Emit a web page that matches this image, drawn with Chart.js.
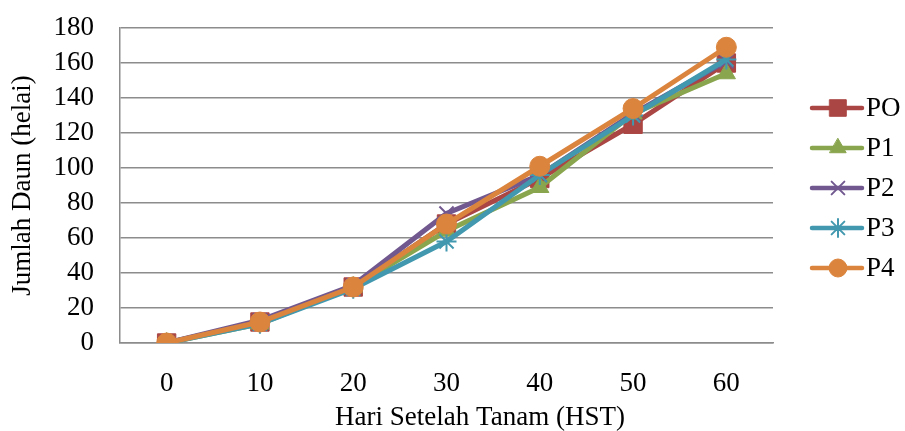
<!DOCTYPE html>
<html>
<head>
<meta charset="utf-8">
<script src="https://cdn.jsdelivr.net/npm/chart.js@4.4.1/dist/chart.umd.min.js"></script>
<style>
html,body{margin:0;padding:0;background:#fff;}
#wrap{position:relative;width:905px;height:431px;}
</style>
</head>
<body>
<div id="wrap"><canvas id="c" width="905" height="431"></canvas></div>
<script>
const categories = ['0','10','20','30','40','50','60'];
const seriesNames = ['PO','P1','P2','P3','P4'];
const valuesPO = [0, 12, 32, 68, 94, 125, 160];
const valuesP1 = [0, 11, 32, 64, 89, 131, 154];
const valuesP2 = [0, 13, 33, 74, 96, 131, 161];
const valuesP3 = [0, 11, 31, 58, 96, 130, 162];
const valuesP4 = [0, 12, 32, 68, 101, 134, 169];
const yTicks = [0,20,40,60,80,100,120,140,160,180];
const xTitle = 'Hari Setelah Tanam (HST)';
const yTitle = 'Jumlah Daun (helai)';

const colors = ['#AA4643','#89A54E','#71588F','#4198AF','#DB843D'];
const styles = ['rect','triangle','crossRot','star','circle'];
const radii = [13, 10.5, 10, 10, 10];
const allValues = [valuesPO, valuesP1, valuesP2, valuesP3, valuesP4];
const FONT = '"Liberation Serif", "Times New Roman", serif';
const FS = 27;
const gridColor = '#8C8C8C';

const datasets = seriesNames.map((n, i) => ({
  label: n,
  data: allValues[i],
  borderColor: colors[i],
  backgroundColor: colors[i],
  pointBackgroundColor: colors[i],
  pointBorderColor: colors[i],
  pointStyle: styles[i],
  pointRadius: radii[i],
  pointHoverRadius: radii[i],
  pointBorderWidth: (styles[i] === 'crossRot' || styles[i] === 'star') ? 2 : 1,
  borderWidth: 5,
  tension: 0,
  fill: false,
  order: seriesNames.length - i
}));

const legendPlugin = {
  id: 'customLegend',
  afterDraw(chart) {
    const ctx = chart.ctx;
    const x0 = 812, x1 = 862, mx = 838, tx = 866, y0 = 108, step = 40;
    chart.data.datasets.forEach((ds, i) => {
      const y = y0 + i * step;
      ctx.save();
      ctx.strokeStyle = ds.borderColor;
      ctx.lineWidth = 4.5;
      ctx.lineCap = 'round';
      ctx.beginPath(); ctx.moveTo(x0, y); ctx.lineTo(x1, y); ctx.stroke();
      ctx.fillStyle = ds.pointBackgroundColor;
      ctx.strokeStyle = ds.pointBorderColor;
      ctx.lineWidth = ds.pointBorderWidth;
      Chart.helpers.drawPoint(ctx, {pointStyle: ds.pointStyle, radius: ds.pointRadius * 0.9, rotation: 0, borderWidth: ds.pointBorderWidth}, mx, y);
      ctx.fillStyle = '#000';
      ctx.font = FS + 'px ' + FONT;
      ctx.textBaseline = 'middle';
      ctx.textAlign = 'left';
      ctx.fillText(ds.label, tx, y + 1);
      ctx.restore();
    });
    ctx.save();
    ctx.fillStyle = '#000';
    ctx.font = FS + 'px ' + FONT;
    ctx.textAlign = 'center';
    ctx.textBaseline = 'alphabetic';
    ctx.fillText(xTitle, 480, 425);
    ctx.restore();
  }
};

new Chart(document.getElementById('c'), {
  type: 'line',
  data: { labels: categories, datasets },
  options: {
    responsive: false,
    animation: false,
    events: [],
    layout: { padding: { top: 28, right: 132, left: 0, bottom: 0 } },
    plugins: { legend: { display: false }, tooltip: { enabled: false } },
    scales: {
      x: {
        offset: true,
        grid: { display: false, drawTicks: false },
        border: { display: true, color: gridColor, width: 1.5 },
        ticks: { color: '#000', font: { family: FONT, size: FS }, padding: 25, maxRotation: 0, autoSkip: false },
        title: { display: false },
        afterFit(s) { s.height = 88; s.paddingLeft = 0; s.paddingRight = 0; }
      },
      y: {
        min: 0, max: 180,
        afterBuildTicks(s) { s.ticks = yTicks.map(v => ({ value: v })); },
        grid: { color: gridColor, lineWidth: 1.5, drawTicks: false },
        border: { display: true, color: gridColor, width: 1.5 },
        ticks: { color: '#000', font: { family: FONT, size: FS }, padding: 26, autoSkip: false },
        title: { display: true, text: yTitle, color: '#000', font: { family: FONT, size: FS }, padding: { top: 7, bottom: 0 } },
        afterFit(s) { s.width = 120; s.paddingTop = 0; s.paddingBottom = 0; }
      }
    }
  },
  plugins: [legendPlugin]
});
</script>
</body>
</html>
